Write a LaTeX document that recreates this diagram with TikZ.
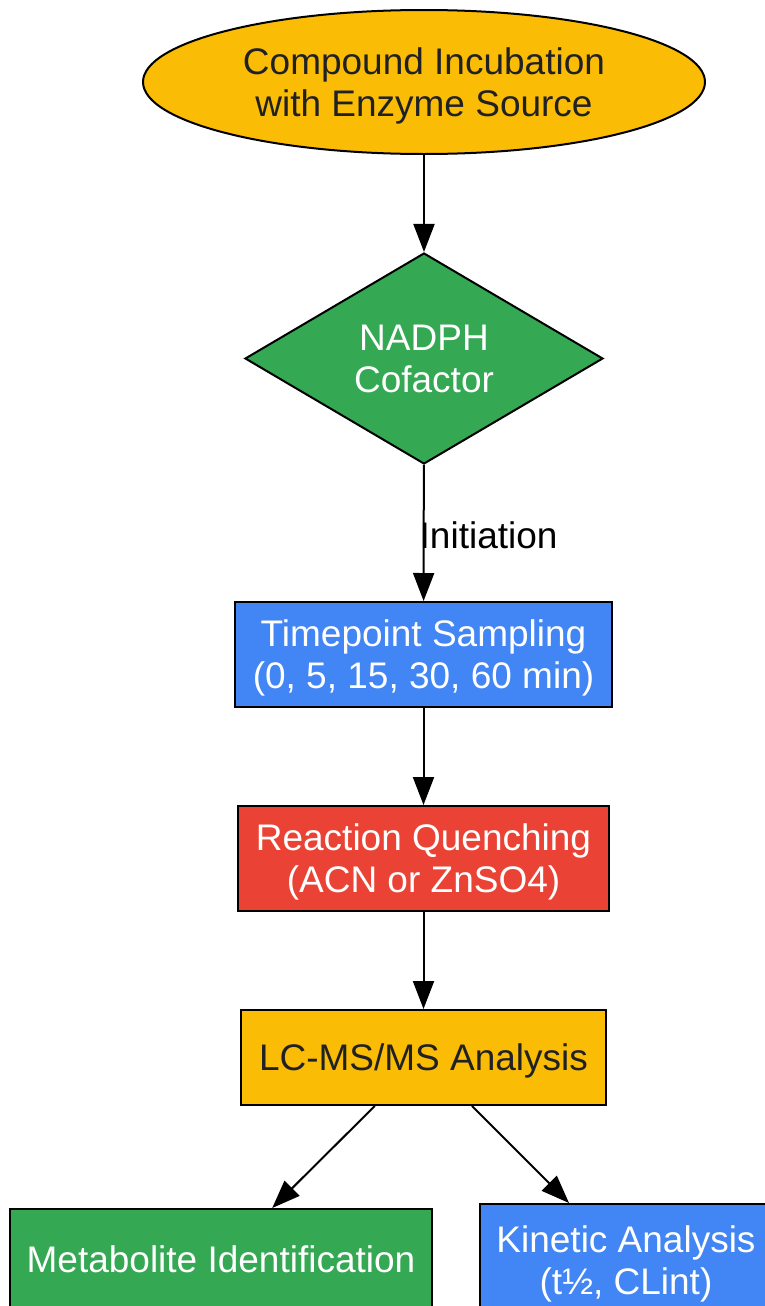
\documentclass[tikz,border=0pt]{standalone}
\usepackage{fontspec}
\setmainfont{Liberation Sans}
\usetikzlibrary{shapes.geometric,arrows.meta}
\definecolor{gyellow}{HTML}{FBBC05}
\definecolor{ggreen}{HTML}{34A853}
\definecolor{gblue}{HTML}{4285F4}
\definecolor{gred}{HTML}{EA4335}
\definecolor{gdark}{HTML}{202124}
\newcommand{\droptext}[1]{\raisebox{-2.5pt}[\height][\depth]{\begin{tabular}{@{}c@{}}#1\end{tabular}}}
\tikzset{
  stage/.style={draw=black, line width=1pt, rectangle, align=center, inner sep=0pt, font=\fontsize{18.5}{21}\selectfont},
  flow/.style={line width=1pt, -{Triangle[length=14pt,width=10.5pt]}},
}

\begin{document}
\begin{tikzpicture}[x=0.5pt,y=-0.5pt]
			%%%%% START %%%%%
			\def\xmid{424}
			\def\boxh{52.5pt}
			\def\lowh{50pt}

			\useasboundingbox (0,0) rectangle (765,1306);

			\node[stage, ellipse, fill=gyellow, text=gdark, minimum width=281pt, minimum height=72pt] (incub) at (\xmid,82) {\droptext{Compound Incubation\\with Enzyme Source}};
			\node[stage, diamond, shape aspect=1.7, fill=ggreen, text=white, minimum width=179pt, minimum height=105.5pt] (nadph) at (\xmid,358.5) {\droptext{NADPH\\Cofactor}};

			\node[stage, fill=gblue, text=white, minimum width=188.5pt, minimum height=\boxh] (sampl) at (423.5,654.5) {\droptext{Timepoint Sampling\\(0, 5, 15, 30, 60 min)}};
			\node[stage, fill=gred, text=white, minimum width=185.5pt, minimum height=\boxh] (quench) at (423.5,858.5) {\droptext{Reaction Quenching\\(ACN or ZnSO4)}};
			\node[stage, fill=gyellow, text=gdark, minimum width=182.5pt, minimum height=47.5pt] (lcms) at (423.5,1057.5) {\droptext{LC-MS/MS Analysis}};

			\node[stage, fill=ggreen, text=white, minimum width=211pt, minimum height=\lowh] (metab) at (221,1259) {Metabolite Identification};
			\node[stage, fill=gblue, text=white, minimum width=146pt, minimum height=56pt] (kinet) at (626,1260) {\droptext{Kinetic Analysis\\(t½, CLint)}};

			\draw[flow] (incub) -- (nadph);
			\draw[flow] (nadph) -- node[midway, anchor=west, inner sep=0pt, xshift=-2.5pt, yshift=-1pt, font=\fontsize{18.5}{21}\selectfont] (initlbl) {Initiation} (sampl);
			\draw[flow] (sampl) -- (quench);
			\draw[flow] (quench) -- (lcms);
			\draw[flow] (lcms) -- (metab);
			\draw[flow] (lcms) -- (kinet);
			%%%%% END %%%%%
		\end{tikzpicture}
\end{document}
